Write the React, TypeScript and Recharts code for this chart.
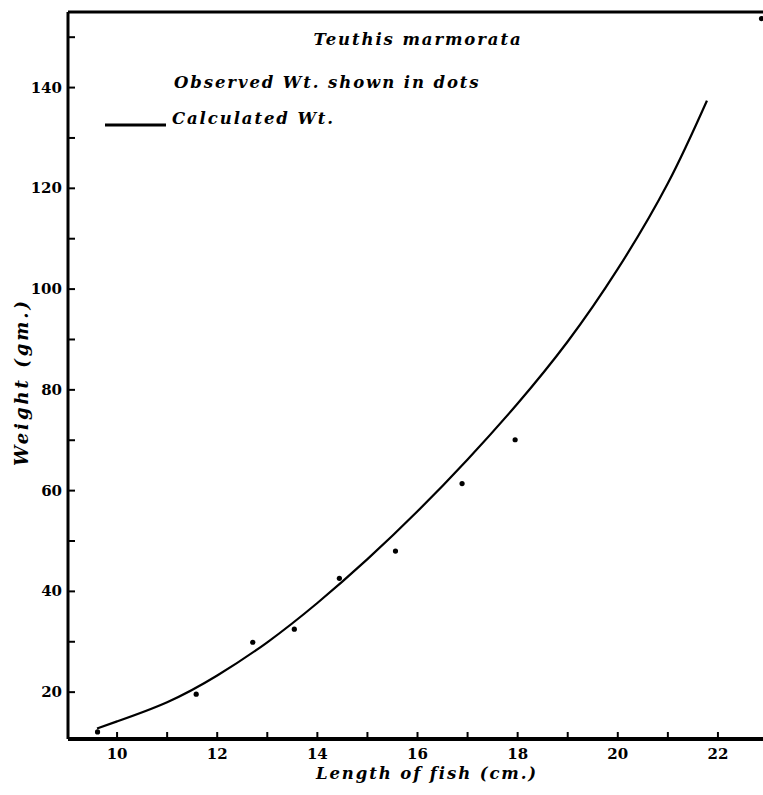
import React from 'react';
import { ComposedChart, Line, Scatter, XAxis, YAxis, ReferenceLine } from 'recharts';

// Observed weights (dots)
const LENGTH_OBS = [9.61, 11.58, 12.71, 13.54, 14.44, 15.56, 16.89, 17.95, 22.87];
const WEIGHT_OBS = [12.1, 19.6, 29.9, 32.5, 42.6, 48.0, 61.4, 70.1, 153.7];

// Calculated weight curve
const LENGTH_CALC = [9.6, 10, 11, 12, 13, 14, 15, 16, 17, 18, 19, 20, 21, 21.78];
const WEIGHT_CALC = [12.8, 14.2, 18.0, 23.3, 29.9, 37.7, 46.4, 55.9, 66.2, 77.3, 89.6, 104.0, 121.0, 137.4];

const X_TICKS = [10, 11, 12, 13, 14, 15, 16, 17, 18, 19, 20, 21, 22];
const Y_TICKS = [20, 30, 40, 50, 60, 70, 80, 90, 100, 110, 120, 130, 140, 150];
const X_DOMAIN: [number, number] = [9.02, 22.9];
const Y_DOMAIN: [number, number] = [10.7, 155];

const TITLE = 'Teuthis marmorata';
const LEGEND_OBS = 'Observed Wt. shown in dots';
const LEGEND_CALC = 'Calculated Wt.';
const X_LABEL = 'Length of fish (cm.)';
const Y_LABEL = 'Weight (gm.)';

const obsData = LENGTH_OBS.map((x, i) => ({ x, y: WEIGHT_OBS[i] }));
const calcData = LENGTH_CALC.map((x, i) => ({ x, y: WEIGHT_CALC[i] }));

const SERIF = '"DejaVu Serif", "Liberation Serif", serif';
const TICK_SIZE = 6;

const XTick = (props: any) => {
  const { x, y, payload } = props;
  const v = payload.value;
  const axisY = y - TICK_SIZE;
  return (
    <g>
      <line x1={x} x2={x} y1={axisY} y2={axisY - 7} stroke="#000" strokeWidth={2} />
      {v % 2 === 0 && (
        <text x={x} y={y + 14} textAnchor="middle" fontFamily={SERIF} fontWeight="bold" fontSize={15} fill="#000">
          {v}
        </text>
      )}
    </g>
  );
};

const YTick = (props: any) => {
  const { x, y, payload } = props;
  const v = payload.value;
  const axisX = x + TICK_SIZE;
  return (
    <g>
      <line x1={axisX} x2={axisX + 7} y1={y} y2={y} stroke="#000" strokeWidth={2} />
      {v % 20 === 0 && (
        <text x={axisX - 6} y={y + 5} textAnchor="end" fontFamily={SERIF} fontWeight="bold" fontSize={15} fill="#000">
          {v}
        </text>
      )}
    </g>
  );
};

const Dot = (props: any) => {
  const { cx, cy } = props;
  return <circle cx={cx} cy={cy} r={2.6} fill="#000" />;
};

const textStyle = {
  fontFamily: SERIF,
  fontWeight: 'bold' as const,
  fontStyle: 'italic' as const,
  fontSize: 16.5,
  letterSpacing: 1.9,
};

export default function App() {
  return (
    <div style={{ position: 'absolute', left: 0, top: 0, width: 763, height: 795, background: '#fff' }}>
      <ComposedChart width={763} height={795} margin={{ top: 12, right: 0, bottom: 0, left: 0 }}>
        <XAxis
          type="number"
          dataKey="x"
          domain={X_DOMAIN}
          ticks={X_TICKS}
          allowDataOverflow
          height={56}
          tickSize={TICK_SIZE}
          tickMargin={0}
          tickLine={false}
          axisLine={{ stroke: '#000', strokeWidth: 4 }}
          tick={<XTick />}
        />
        <YAxis
          type="number"
          dataKey="y"
          domain={Y_DOMAIN}
          ticks={Y_TICKS}
          allowDataOverflow
          width={68}
          tickSize={TICK_SIZE}
          tickMargin={0}
          tickLine={false}
          axisLine={{ stroke: '#000', strokeWidth: 3 }}
          tick={<YTick />}
        />
        <ReferenceLine y={Y_DOMAIN[1]} stroke="#000" strokeWidth={3} />
        <Line
          data={calcData}
          dataKey="y"
          type="natural"
          stroke="#000"
          strokeWidth={2.2}
          dot={false}
          isAnimationActive={false}
        />
        <Scatter data={obsData} dataKey="y" fill="#000" shape={<Dot />} isAnimationActive={false} />
      </ComposedChart>
      <svg width={763} height={795} style={{ position: 'absolute', left: 0, top: 0, pointerEvents: 'none' }}>
        <text x={418} y={45} textAnchor="middle" {...textStyle}>{TITLE}</text>
        <text x={174} y={88} {...textStyle}>{LEGEND_OBS}</text>
        <line x1={105} x2={166} y1={125} y2={125} stroke="#000" strokeWidth={3} />
        <text x={172} y={124} {...textStyle}>{LEGEND_CALC}</text>
        <text x={427} y={779} textAnchor="middle" {...textStyle}>{X_LABEL}</text>
        <text
          x={0}
          y={0}
          transform="translate(28, 382) rotate(-90)"
          textAnchor="middle"
          {...textStyle}
          fontSize={18}
          letterSpacing={3}
        >
          {Y_LABEL}
        </text>
      </svg>
    </div>
  );
}
